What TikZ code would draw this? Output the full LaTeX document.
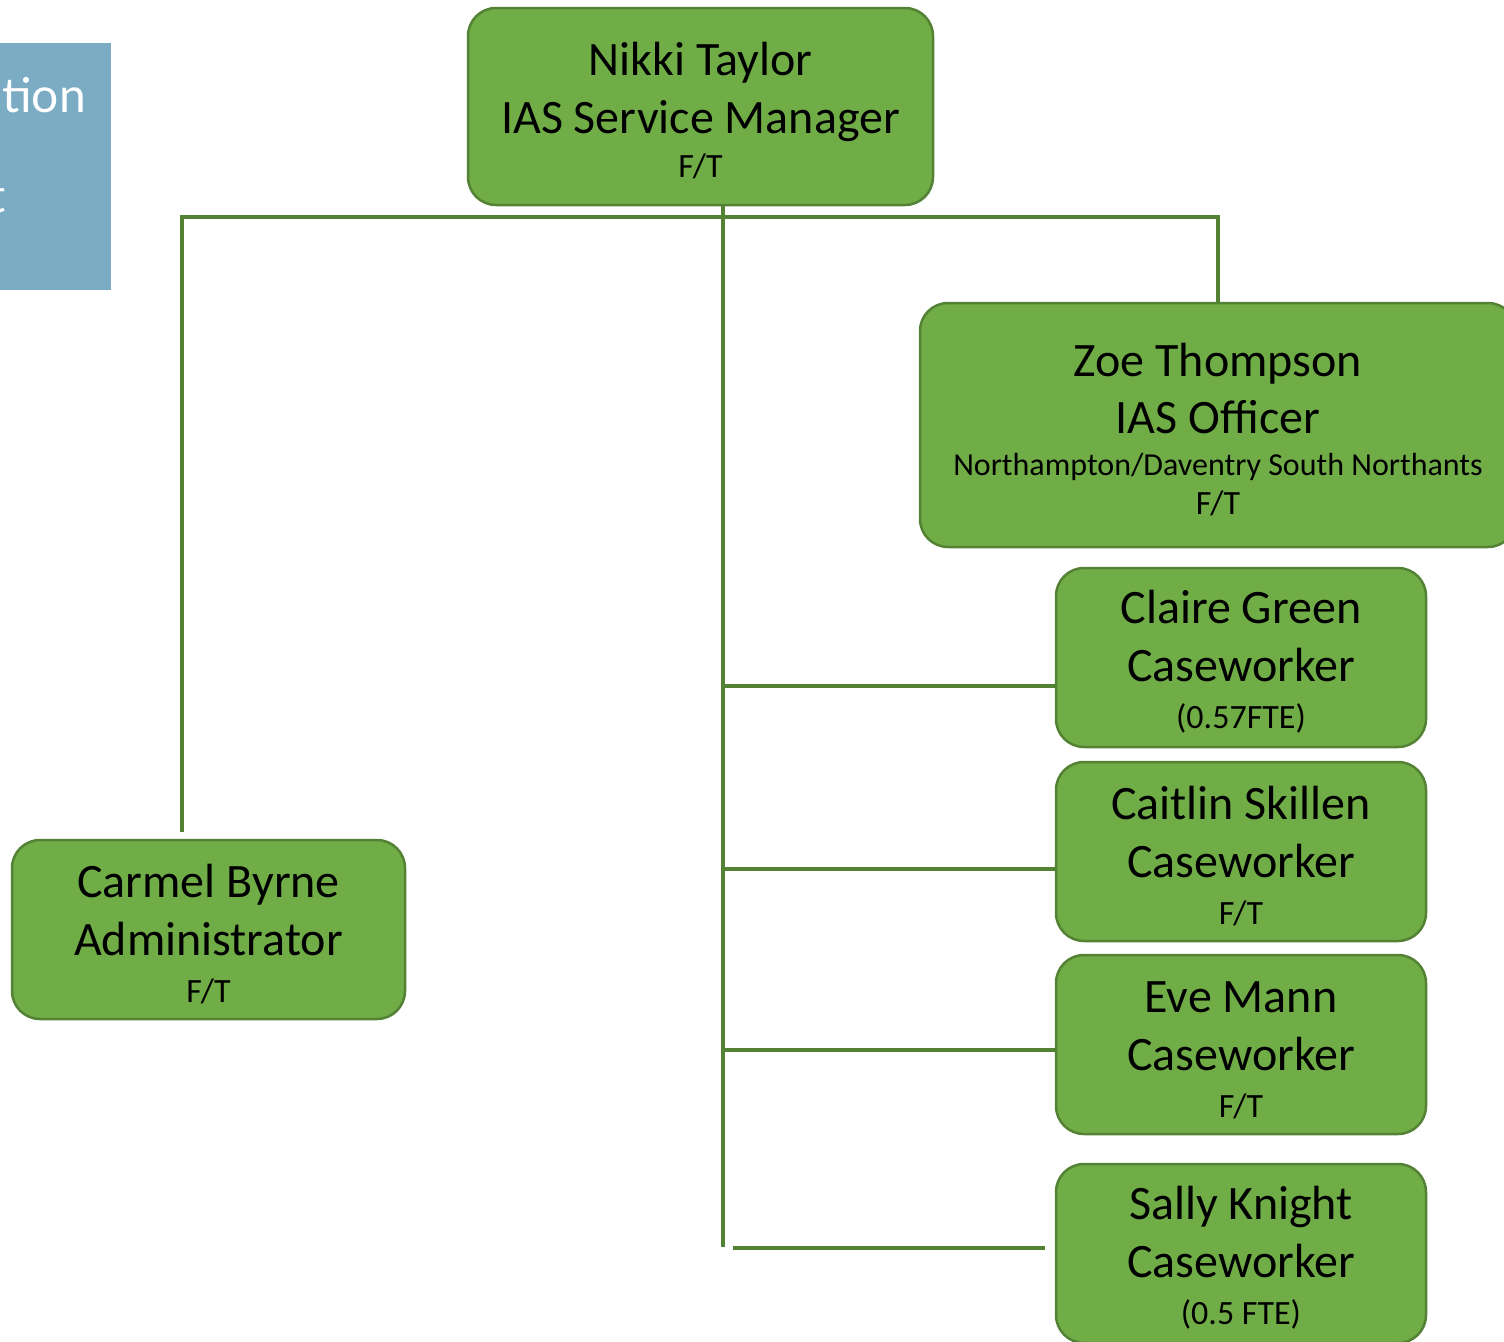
\documentclass[tikz,border=0pt]{standalone}
\usepackage{fontspec}
\setmainfont{Carlito}
\newfontfamily\bannerfont{Lato}
\usetikzlibrary{positioning}
\definecolor{boxgreen}{HTML}{70AD47}
\definecolor{linegreen}{HTML}{548235}
\definecolor{bannerblue}{HTML}{7BACC4}
\newcommand{\bigtext}{\fontsize{48}{57.5}\selectfont}
\newcommand{\smalltext}{\fontsize{34}{40}\selectfont}
\newcommand{\areatext}{\fontsize{32}{38}\selectfont}
\newcommand{\topgap}{\rule{0pt}{42pt}}
\tikzset{
    staff/.style = {
        draw = linegreen,
        line width = 2.5pt,
        fill = boxgreen,
        rounded corners = 28pt,
        align = center,
        inner sep = 0pt,
        minimum width = 370pt,
        minimum height = 179pt,
        font = \bigtext,
        },
    link/.style = {
        draw = linegreen,
        line width = 4pt,
        },
    banner/.style = {
        text = white,
        font = \bannerfont\fontsize{48}{56}\selectfont,
        inner sep = 0pt,
        anchor = base east,
        },
}

\begin{document}
\begin{tikzpicture}[x=1pt, y=-1pt]
            \useasboundingbox (0,0) rectangle (1504,1341);
            \clip (0,0) rectangle (1504,1341);

            % banner at the left edge
            \fill[bannerblue] (-10,43) rectangle (111,290);
            \node[banner] (tion) at (86,112) {tion};
            \node[banner] (tee) at (6,212) {t};

            \node[staff, minimum width=465pt, minimum height=197pt] (nikki) at (700.5,106.5) {\topgap Nikki Taylor\\ IAS Service Manager\\[-13pt] {\smalltext F/T}};
            \node[staff, minimum width=596pt, minimum height=244pt] (zoe) at (1218,425) {\topgap Zoe Thompson\\ IAS Officer\\[-15.5pt] {\areatext Northampton/Daventry South Northants}\\[-18.5pt] {\smalltext F/T}};
            \node[staff, minimum width=393pt] (carmel) at (208.5,929.5) {\topgap Carmel Byrne\\ Administrator\\[-10.5pt] {\smalltext F/T}};

            \node[staff] (claire) at (1241,657.5) {\topgap Claire Green\\ Caseworker\\[-10.5pt] {\smalltext (0.57FTE)}};
            \node[staff] (caitlin) at (1241,851.5) {\topgap Caitlin Skillen\\ Caseworker\\[-10.5pt] {\smalltext F/T}};
            \node[staff] (eve) at (1241,1044.5) {\topgap Eve Mann\\ Caseworker\\[-10.5pt] {\smalltext F/T}};
            \node[staff] (sally) at (1241,1253.5) {\topgap Sally Knight\\ Caseworker\\[-10.5pt] {\smalltext (0.5 FTE)}};

            \coordinate (busleft) at (182,217);
            \coordinate (busright) at (1218,217);
            \coordinate (trunk) at (722.5,1247);

            % manager down the trunk, and the bus across
            \path[link] ([xshift=22pt]nikki.south) -- (trunk);
            \path[link] ([yshift=7pt]carmel.north -| busleft) -- (busleft) -- (busright) -- (zoe.north);

            % caseworkers off the trunk
            \path ([yshift=-28.5pt]claire.west) coordinate (claire in);
            \path ([yshift=-17.5pt]caitlin.west) coordinate (caitlin in);
            \path ([yshift=-5.5pt]eve.west) coordinate (eve in);
            \path ([yshift=6pt, xshift=-10pt]sally.west) coordinate (sally in);
            \path[link] (claire in) -- (claire in -| trunk);
            \path[link] (caitlin in) -- ([xshift=-2pt]caitlin in -| trunk);
            \path[link] (eve in) -- ([xshift=-2pt]eve in -| trunk);
            \path[link] (sally in) -- ([xshift=10pt]sally in -| trunk);
        \end{tikzpicture}
\end{document}
